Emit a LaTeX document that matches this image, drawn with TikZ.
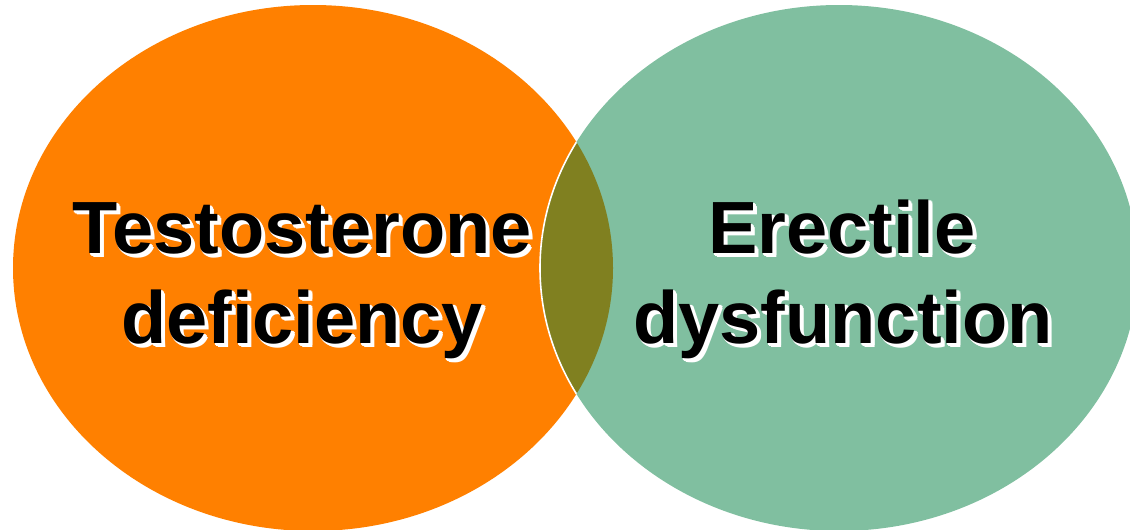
\documentclass[tikz,border=0pt]{standalone}
\usepackage{fontspec}
\setmainfont{Liberation Sans}
\definecolor{orangeC}{HTML}{FF8000}
\definecolor{greenC}{HTML}{80BFA0}
\definecolor{oliveC}{HTML}{808020}
\tikzset{
  lbl/.style={font=\fontsize{74}{90}\selectfont\bfseries, inner sep=0pt, anchor=base},
}
\newcommand{\gl}[3]{\makebox[0pt][l]{\hspace*{#1pt}\raisebox{-#2pt}{\textcolor{white}{#3}}}}
\newcommand{\glowtext}[1]{%
  \gl{1}{1}{#1}\gl{2}{2}{#1}\gl{3}{3}{#1}\gl{3.5}{2}{#1}\gl{2}{3.5}{#1}%
  \gl{1}{2.5}{#1}\gl{2.5}{1}{#1}\gl{4}{4}{#1}#1}
\begin{document}
\begin{tikzpicture}[x=1pt,y=-1pt]
\useasboundingbox (0,0) rectangle (1130,530);
\clip (0,0) rectangle (1130,530);
\coordinate (cL) at (313,268);
\coordinate (cR) at (839,268);
\fill[orangeC] (cL) ellipse [x radius=300, y radius=263];
\fill[greenC] (cR) ellipse [x radius=299, y radius=263];
\begin{scope}
  \clip (cL) ellipse [x radius=300, y radius=263];
  \fill[oliveC] (cR) ellipse [x radius=299, y radius=263];
  \draw[white, line width=1.6pt] (cR) ellipse [x radius=299, y radius=263];
\end{scope}
\node[lbl] (t1) at (302,253) {\glowtext{Testosterone}};
\node[lbl] (t2) at (302,343) {\glowtext{deficiency}};
\node[lbl] (t3) at (842,253) {\glowtext{Erectile}};
\node[lbl] (t4) at (843,343) {\glowtext{dysfunction}};
\end{tikzpicture}
\end{document}
